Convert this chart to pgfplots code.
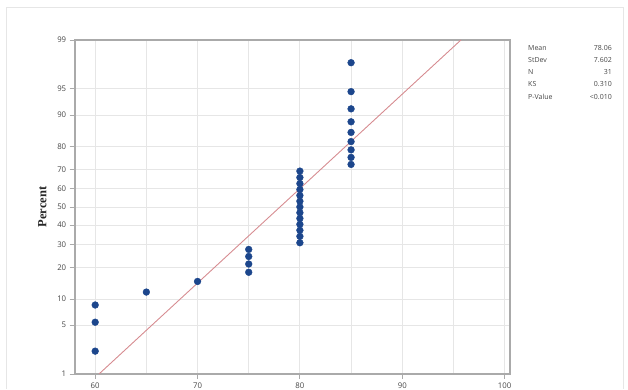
\documentclass[border=0pt]{standalone}
\usepackage{pgfplots}
\pgfplotsset{compat=1.18}
\usepackage{fontspec}
\setmainfont{Open Sans}
\newfontfamily\serifb{Liberation Serif}
\definecolor{ptblue}{RGB}{28,70,140}
\definecolor{fitred}{RGB}{214,140,145}
\definecolor{framegray}{RGB}{170,170,170}
\definecolor{gridgray}{RGB}{230,230,230}
\definecolor{txtgray}{RGB}{70,70,70}
\begin{document}
\begin{tikzpicture}[x=1pt,y=1pt]
\path[use as bounding box] (0,0) rectangle (628,389);
\draw[gridgray, line width=1pt] (6,0) -- (6,381) -- (623,381) -- (623,0);
\begin{axis}[
  at={(73,21)}, anchor=south west,
  scale only axis, width=435pt, height=334pt,
  xmin=58, xmax=100.5, ymin=-2.3263, ymax=2.3263,
  xtick={60,70,80,90,100},
  minor xtick={65,75,85,95},
  ytick={-2.3263,-1.6449,-1.2816,-0.8416,-0.5244,-0.2533,0,0.2533,0.5244,0.8416,1.2816,1.6449,2.3263},
  yticklabels={1,5,10,20,30,40,50,60,70,80,90,95,99},
  xmajorgrids, xminorgrids, ymajorgrids,
  major grid style={gridgray, line width=0.8pt},
  minor grid style={gridgray, line width=0.8pt},
  axis line style={framegray, line width=1.6pt},
  tick style={framegray, line width=0.8pt},
  tick align=outside, major tick length=5pt, minor tick length=0pt,
  xtick pos=bottom, ytick pos=left,
  tick label style={font=\fontsize{7.8}{9}\selectfont, text=txtgray},
  /pgf/number format/assume math mode=true,
  ylabel={\serifb\bfseries Percent},
  ylabel style={font=\fontsize{12.5}{14}\selectfont, text=black!85},
  ylabel shift=4pt,
  clip=true,
]
\addplot[fitred, line width=0.9pt] coordinates {(60.38,-2.3263) (95.74,2.3263)};
\addplot[only marks, mark=*, mark size=3.4pt, mark options={fill=ptblue, draw=ptblue}] coordinates {
(60,-2.009) (60,-1.606) (60,-1.366)
(65,-1.186)
(70,-1.038)
(75,-0.910) (75,-0.795) (75,-0.690) (75,-0.592)
(80,-0.499) (80,-0.410) (80,-0.325) (80,-0.242) (80,-0.160) (80,-0.080) (80,0) (80,0.080) (80,0.160) (80,0.242) (80,0.325) (80,0.410) (80,0.499)
(85,0.592) (85,0.690) (85,0.795) (85,0.910) (85,1.038) (85,1.186) (85,1.366) (85,1.606) (85,2.009)
};
\end{axis}
\begin{scope}[every node/.style={font=\fontsize{7}{8}\selectfont, text=txtgray, inner sep=0pt}]
\node[anchor=base west] at (528,338) {Mean};
\node[anchor=base west] at (528,326) {StDev};
\node[anchor=base west] at (528,314) {N};
\node[anchor=base west] at (528,302) {KS};
\node[anchor=base west] at (528,290) {P-Value};
\node[anchor=base east] at (612,338) {78.06};
\node[anchor=base east] at (612,326) {7.602};
\node[anchor=base east] at (612,314) {31};
\node[anchor=base east] at (612,302) {0.310};
\node[anchor=base east] at (612,290) {<0.010};
\end{scope}
\end{tikzpicture}
\end{document}
